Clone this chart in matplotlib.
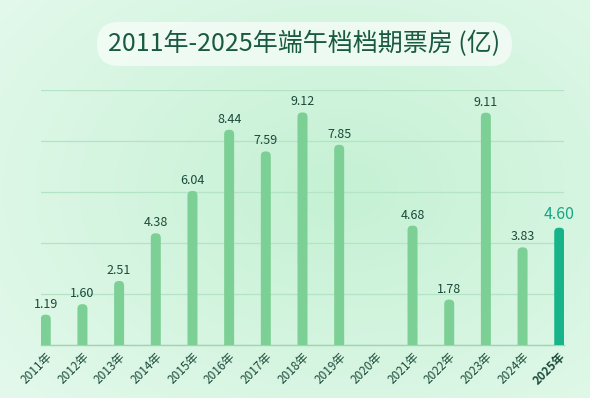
import numpy as np
import matplotlib
matplotlib.use("Agg")
import matplotlib.pyplot as plt
from matplotlib.patches import FancyBboxPatch

plt.rcParams['font.family'] = ['Noto Sans CJK SC', 'DejaVu Sans']

years = ['2011年', '2012年', '2013年', '2014年', '2015年', '2016年', '2017年', '2018年',
         '2019年', '2020年', '2021年', '2022年', '2023年', '2024年', '2025年']
values = [1.19, 1.60, 2.51, 4.38, 6.04, 8.44, 7.59, 9.12, 7.85, 0.0, 4.68, 1.78, 9.11, 3.83, 4.60]
labels = ['1.19', '1.60', '2.51', '4.38', '6.04', '8.44', '7.59', '9.12', '7.85', '',
          '4.68', '1.78', '9.11', '3.83', '4.60']
title = '2011年-2025年端午档档期票房 (亿)'

W, H = 590, 398
fig = plt.figure(figsize=(W / 100, H / 100), dpi=100)

# background gradient
bg = fig.add_axes([0, 0, 1, 1])
bg.set_axis_off()
yy, xx = np.mgrid[0:H, 0:W]
d = np.sqrt(((xx - 340) / 450.0) ** 2 + ((yy - 190) / 320.0) ** 2)
d = np.clip(d, 0, 1)
c_in = np.array([0xc5, 0xf1, 0xd4]) / 255.0
c_out = np.array([0xe4, 0xf9, 0xec]) / 255.0
img = c_in[None, None, :] * (1 - d[..., None]) + c_out[None, None, :] * d[..., None]
bg.imshow(img, extent=[0, 1, 0, 1], aspect='auto', origin='upper')
bg.set_xlim(0, 1)
bg.set_ylim(0, 1)

# title pill
pill = FancyBboxPatch((97 / W, 1 - 66 / H), (512 - 97) / W, (66 - 22) / H,
                      boxstyle="round,pad=0,rounding_size=0.037",
                      mutation_aspect=W / H,
                      transform=fig.transFigure, facecolor='white', alpha=0.6,
                      edgecolor='none')
fig.patches.append(pill)
fig.text(304 / W, 1 - 44 / H, title, ha='center', va='center', fontsize=18,
         color='#1b5a42')

# main axes
left, right = 41 / W, 564 / W
bottom, top = 1 - 345 / H, 1 - 90 / H
ax = fig.add_axes([left, bottom, right - left, top - bottom])
ax.patch.set_alpha(0)
n = len(years)
x = np.arange(n)
ax.set_xlim(-0.13, n - 1 + 0.13)
ax.set_ylim(0, 10)
ax.set_yticks([0, 2, 4, 6, 8, 10])
ax.yaxis.grid(True, color='#b5e3c5', linewidth=0.9)
ax.set_axisbelow(True)
for s in ['top', 'right', 'left']:
    ax.spines[s].set_visible(False)
ax.spines['bottom'].set_color('#9fd6b2')
ax.spines['bottom'].set_linewidth(1.0)
ax.tick_params(axis='y', left=False, labelleft=False)
ax.tick_params(axis='x', length=0, pad=4)

ax_w_px = (right - left) * W
ax_h_px = (top - bottom) * H
px_x = (ax.get_xlim()[1] - ax.get_xlim()[0]) / ax_w_px
px_y = 10 / ax_h_px
bw = 10 * px_x
r = 4.5 * px_x
for i, v in enumerate(values):
    if v <= 0:
        continue
    col = '#17b48a' if i == n - 1 else '#7dd095'
    p = FancyBboxPatch((x[i] - bw / 2, -0.5), bw, v + 0.5,
                       boxstyle=f"round,pad=0,rounding_size={r}",
                       mutation_aspect=px_y / px_x,
                       facecolor=col, edgecolor='none', zorder=3)
    ax.add_patch(p)
    if i == n - 1:
        ax.text(x[i], v + 5 * px_y, labels[i], ha='center', va='bottom',
                fontsize=11.5, color='#17a585', zorder=4)
    else:
        ax.text(x[i], v + 4 * px_y, labels[i], ha='center', va='bottom',
                fontsize=9, color='#1c4a3a', zorder=4)

ax.set_xticks(x)
ax.set_xticklabels(years, rotation=45, ha='right', rotation_mode='anchor',
                   fontsize=8.5, color='#1c4a3a')
ax.get_xticklabels()[-1].set_fontweight('bold')

fig.savefig('out.png', dpi=100)
